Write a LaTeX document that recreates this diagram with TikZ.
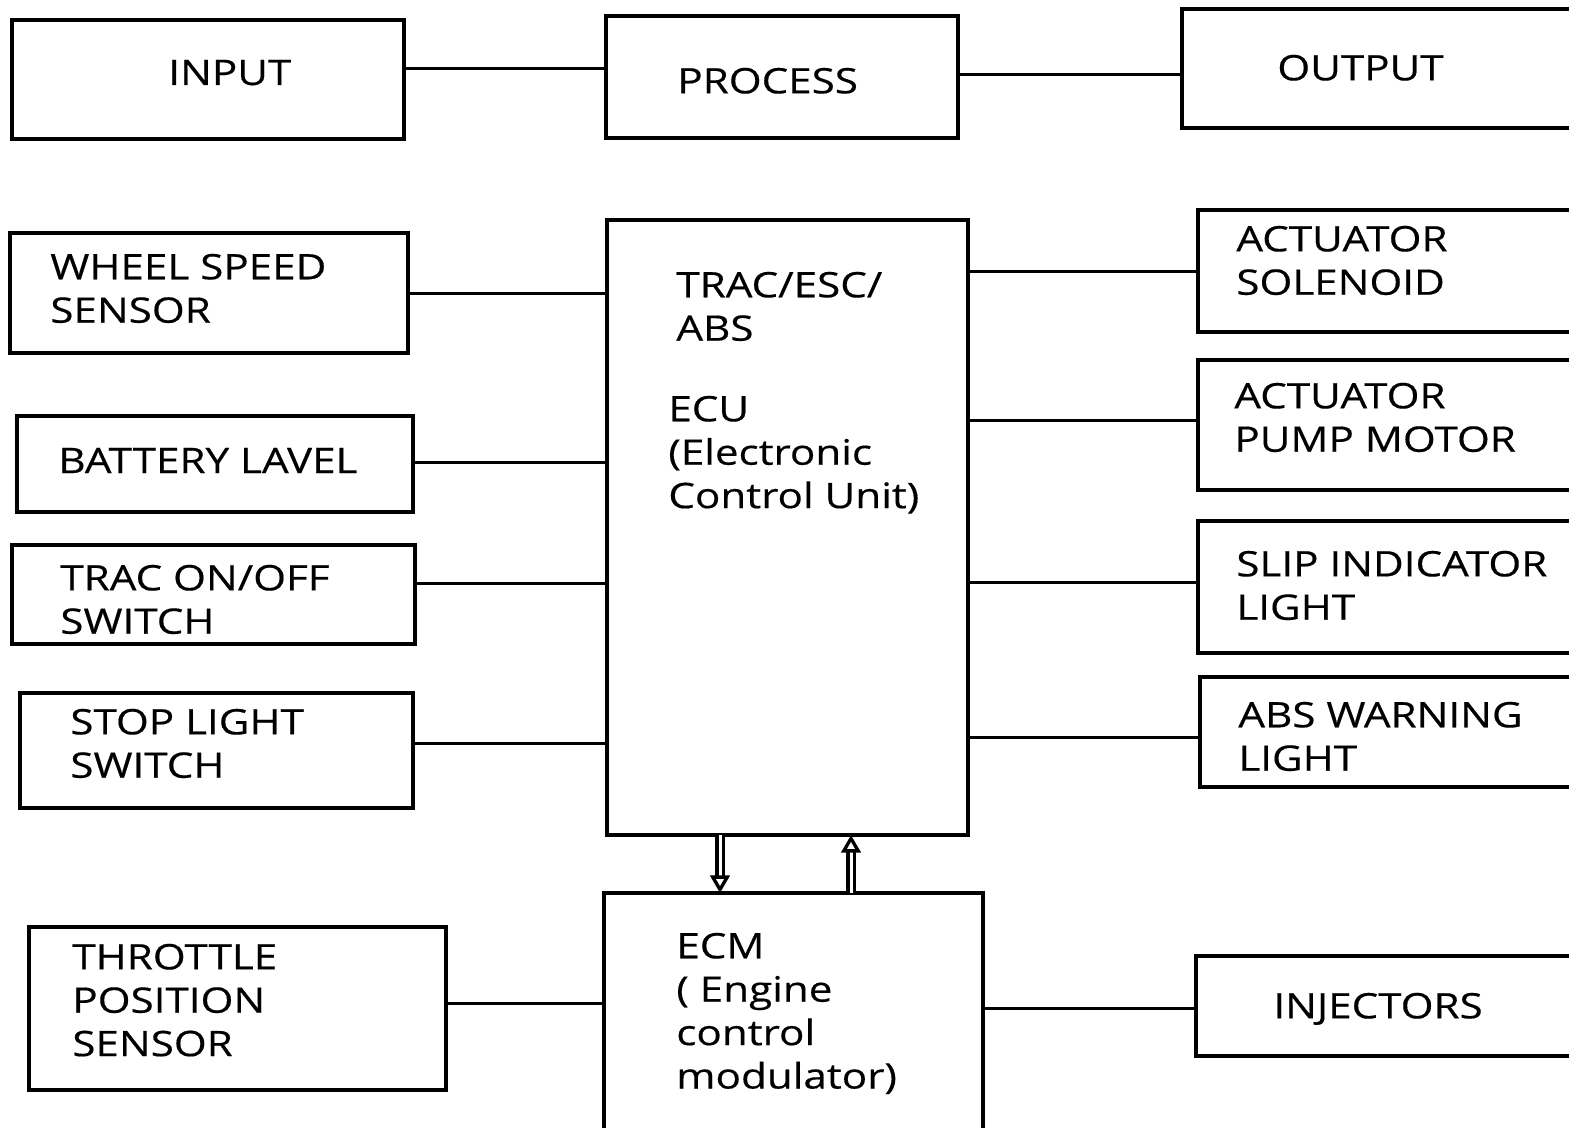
\documentclass[tikz,border=0pt]{standalone}
\usepackage{fontspec}
\setmainfont{Open Sans}[FakeStretch=1.2,FakeBold=0.4]
\usetikzlibrary{fit,arrows.meta}
\begin{document}
\begin{tikzpicture}[x=0.02cm,y=-0.02cm,
  box/.style={draw,line width=0.08cm,inner sep=0pt,outer sep=0pt,rectangle},
  conn/.style={line width=0.06cm},
  txt/.style={anchor=north west,inner sep=0pt,align=left,font=\fontsize{20}{24.7}\selectfont},
  dbl/.style={double,line width=1.9pt,double distance=1.7pt,-{Triangle[open,width=11pt,length=10pt,line width=1.9pt]}}]
\useasboundingbox (0,0) rectangle (1569,1127);
\clip (0,0) rectangle (1569,1127);
% boxes
\node[box,fit={(12,20) (404,139)}] (input) {};
\node[box,fit={(606,16) (958,138)}] (process) {};
\node[box,fit={(1182,9) (1620,128)}] (output) {};
\node[box,fit={(10,233) (408,353)}] (wheel) {};
\node[box,fit={(17,416) (413,512)}] (battery) {};
\node[box,fit={(12,545) (415,644)}] (trac) {};
\node[box,fit={(20,693) (413,808)}] (stop) {};
\node[box,fit={(29,927) (446,1090)}] (throttle) {};
\node[box,fit={(607,220) (968,835)}] (ecu) {};
\node[box,fit={(604,893) (983,1170)}] (ecm) {};
\node[box,fit={(1198,210) (1620,332)}] (sol) {};
\node[box,fit={(1198,360) (1620,490)}] (pump) {};
\node[box,fit={(1198,521) (1620,653)}] (slip) {};
\node[box,fit={(1200,677) (1620,787)}] (absw) {};
\node[box,fit={(1196,956) (1620,1056)}] (inj) {};
% texts
\node[txt] (tinput) at (168,59.5) {INPUT};
\node[txt] (tprocess) at (677,67.5) {PROCESS};
\node[txt] (toutput) at (1277,54.5) {OUTPUT};
\node[txt] (twheel) at (50,253.5) {WHEEL SPEED\\SENSOR};
\node[txt] (tbattery) at (58,447.5) {BATTERY LAVEL};
\node[txt] (ttrac) at (60,564.5) {TRAC ON/OFF\\SWITCH};
\node[txt] (tstop) at (70,708.5) {STOP LIGHT\\SWITCH};
\node[txt] (tthrottle) at (72,943.5) {THROTTLE\\POSITION\\SENSOR};
\node[txt] (tabs) at (676,271.5) {TRAC/ESC/\\ABS};
\node[txt] (tecu) at (668,395.5) {ECU\\(Electronic\\Control Unit)};
\node[txt] (tecm) at (676,932.5) {ECM\\( Engine\\control\\modulator)};
\node[txt] (tsol) at (1236,225.5) {ACTUATOR\\SOLENOID};
\node[txt] (tpump) at (1234,382.5) {ACTUATOR\\PUMP MOTOR};
\node[txt] (tslip) at (1236,550.5) {SLIP INDICATOR\\LIGHT};
\node[txt] (tabsw) at (1238,701.5) {ABS WARNING\\LIGHT};
\node[txt] (tinj) at (1273,992.5) {INJECTORS};
% connectors
\draw[conn] (input.east |- 0,68) -- (process.west |- 0,68);
\draw[conn] (process.east |- 0,74) -- (output.west |- 0,74);
\draw[conn] (wheel.east |- 0,293) -- (ecu.west |- 0,293);
\draw[conn] (battery.east |- 0,462) -- (ecu.west |- 0,462);
\draw[conn] (trac.east |- 0,583) -- (ecu.west |- 0,583);
\draw[conn] (stop.east |- 0,743) -- (ecu.west |- 0,743);
\draw[conn] (throttle.east |- 0,1003) -- (ecm.west |- 0,1003);
\draw[conn] (ecu.east |- 0,271) -- (sol.west |- 0,271);
\draw[conn] (ecu.east |- 0,420) -- (pump.west |- 0,420);
\draw[conn] (ecu.east |- 0,582) -- (slip.west |- 0,582);
\draw[conn] (ecu.east |- 0,737) -- (absw.west |- 0,737);
\draw[conn] (ecm.east |- 0,1008) -- (inj.west |- 0,1008);
% arrows between ECU and ECM
\draw[dbl] (ecu.south -| 720,0) -- (ecm.north -| 720,0);
\draw[dbl] (ecm.north -| 851,0) -- (ecu.south -| 851,0);
\end{tikzpicture}
\end{document}
